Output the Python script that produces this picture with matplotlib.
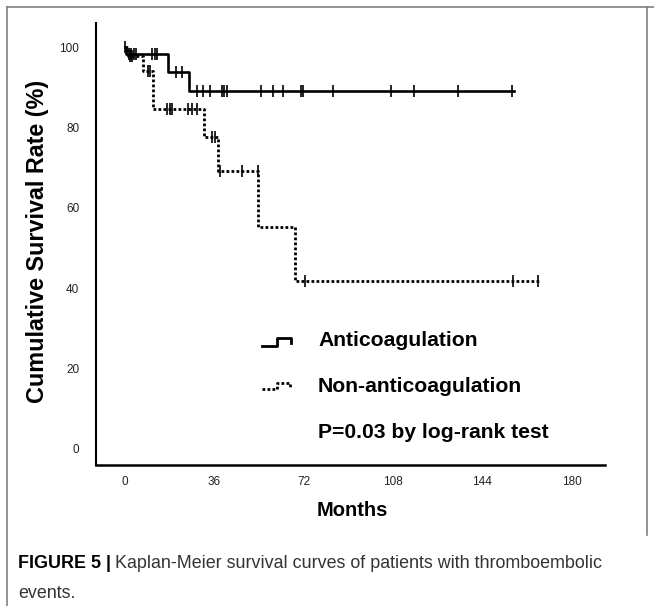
import numpy as np
import matplotlib
matplotlib.use("Agg")
import matplotlib.pyplot as plt
from matplotlib.lines import Line2D

plt.rcParams['font.family'] = ['Liberation Sans', 'DejaVu Sans']

# Kaplan-Meier steps (months, survival %)
anti_times = [0, 0.5, 17.3, 25.8]
anti_surv = [100, 98.3, 93.9, 89.1]
anti_end = 157
anti_censor = [0, 1.5, 2.5, 3.5, 4.5, 10.9, 12.1, 12.9, 20.6, 23, 29, 31.5, 34.3,
               39, 40, 41, 55, 59.7, 63.7, 70.8, 71.9, 84, 107.1, 116.5, 134.3, 156]

non_times = [0, 1.0, 7.3, 11.3, 31.8, 37.5, 53.8, 68.5]
non_surv = [100, 97.8, 94.0, 84.6, 77.6, 69.2, 55.3, 41.8]
non_end = 167.3
non_censor = [2, 3, 9.3, 10, 16.9, 18.1, 18.9, 25.4, 27, 29, 34.9, 36.3, 38.3,
              47, 53.6, 72.6, 156.6, 166.6]

x_ticks = [0, 36, 72, 108, 144, 180]
y_ticks = [0, 20, 40, 60, 80, 100]

W, H = 654, 606


def fpos(x, y):
    # pixel position -> figure fraction
    return x / W, 1 - y / H


def censor_y(times, surv, cens):
    idx = np.searchsorted(times, cens, side='right') - 1
    return np.array(surv)[idx]


def km(ax, times, surv, end, cens, **style):
    xs = list(times) + [end]
    ys = list(surv) + [surv[-1]]
    ax.step(xs, ys, where='post', color='black', **style)
    ax.plot(cens, censor_y(times, surv, cens), linestyle='none', marker='|',
            markersize=8, markeredgewidth=1.2, color='black')


fig = plt.figure(figsize=(W / 100, H / 100), dpi=100)
ax = fig.add_axes([96 / W, 1 - 465 / H, (605 - 96) / W, (465 - 23) / H])

km(ax, anti_times, anti_surv, anti_end, anti_censor, linewidth=1.9)
km(ax, non_times, non_surv, non_end, non_censor, linewidth=2.0,
   linestyle=(0, (1, 0.8)), dash_capstyle='butt')

ax.set_xlim(-11.7, 193.5)
ax.set_ylim(-4, 106)
ax.set_xticks(x_ticks)
ax.set_yticks(y_ticks)
for lab in ax.get_xticklabels() + ax.get_yticklabels():
    lab.set_family(['Liberation Sans Narrow', 'Liberation Sans'])
    lab.set_fontsize(8.5)
    lab.set_color('#222222')
ax.tick_params(axis='both', length=0)
ax.tick_params(axis='y', pad=12)
ax.tick_params(axis='x', pad=8)
for s in ['top', 'right']:
    ax.spines[s].set_visible(False)
ax.spines['left'].set_linewidth(1.5)
ax.spines['bottom'].set_linewidth(1.8)

# legend drawn by hand, icons are little step shapes
solid_icon = [(262, 346), (277, 346), (277, 338), (291, 338), (291, 343)]
dot_icon = [(262, 389), (277, 389), (277, 383), (290, 383), (290, 387)]
for pts, st in [(solid_icon, dict(linewidth=2.0)),
                (dot_icon, dict(linewidth=2.0, linestyle=(0, (1, 0.8)), dash_capstyle='butt'))]:
    fx, fy = zip(*[fpos(*p) for p in pts])
    fig.add_artist(Line2D(fx, fy, color='black', transform=fig.transFigure, **st))

for txt, y in [('Anticoagulation', 341), ('Non-anticoagulation', 386),
               ('P=0.03 by log-rank test', 432)]:
    fig.text(*fpos(318, y), txt, fontsize=15.2, fontweight='bold', va='center', ha='left')

fig.text(*fpos(38, 241), 'Cumulative Survival Rate (%)', fontsize=16.8, fontweight='bold',
         rotation=90, ha='center', va='center')
fig.text(*fpos(352, 511), 'Months', fontsize=14.5, fontweight='bold', ha='center', va='center')

# caption
r = fig.canvas.get_renderer()
t1 = fig.text(*fpos(18, 563), 'FIGURE 5 |', fontsize=12.9, fontweight='bold', va='center')
bb = t1.get_window_extent(r)
fig.text(bb.x1 / W + 4 / W, fpos(0, 563)[1], 'Kaplan-Meier survival curves of patients with thromboembolic',
         fontsize=12.9, va='center', color='#333333')
fig.text(*fpos(18, 593), 'events.', fontsize=12.9, va='center', color='#333333')

# gray frame around the figure panel
frame = dict(color='#808080', linewidth=1.2, transform=fig.transFigure)
fig.add_artist(Line2D([7 / W, 7 / W], [0, 1 - 7 / H], **frame))
fig.add_artist(Line2D([7 / W, 1], [1 - 7 / H, 1 - 7 / H], **frame))
fig.add_artist(Line2D([647 / W, 647 / W], [1 - 7 / H, 1 - 535 / H], **frame))

fig.savefig('out.png', dpi=100)
